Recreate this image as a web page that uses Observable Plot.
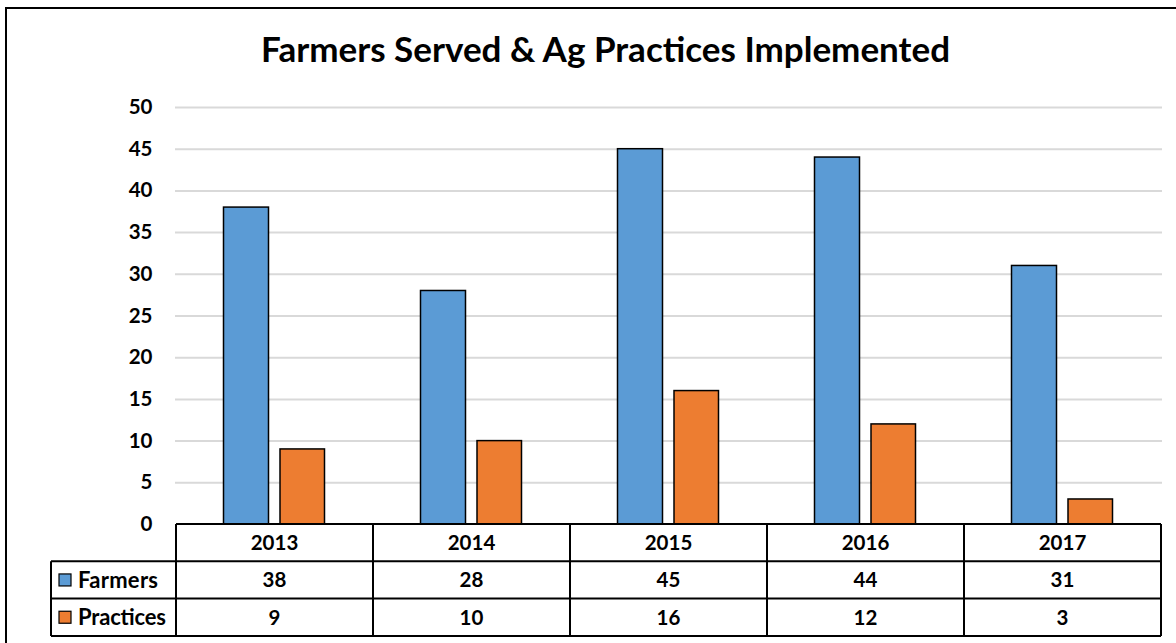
<!DOCTYPE html>
<html><head><meta charset="utf-8">
<script src="https://cdn.jsdelivr.net/npm/d3@7"></script>
<script src="https://cdn.jsdelivr.net/npm/@observablehq/plot@0.6"></script>
<style>
body{margin:0;background:#fff;}
#wrap{position:relative;width:1176px;height:643px;overflow:hidden;}
</style></head><body><div id="wrap"></div>
<script>
const years = ["2013","2014","2015","2016","2017"];
const farmers = [38,28,45,44,31];
const practices = [9,10,16,12,3];
const series = ["Farmers","Practices"];
const colors = ["#5B9BD5","#ED7D31"];
const yTicks = [0,5,10,15,20,25,30,35,40,45,50];
const title = "Farmers Served & Ag Practices Implemented";

const rows = years.flatMap((yr,i)=>[
  {year:yr, series:"Farmers", value:farmers[i]},
  {year:yr, series:"Practices", value:practices[i]}
]);

const FONT = "Lato, 'Open Sans', sans-serif";

const chart = Plot.plot({
  width:1176, height:643,
  marginLeft:175, marginRight:14, marginTop:107, marginBottom:119,
  style:{fontFamily:FONT, fontSize:"20px", fontWeight:"bold", color:"#000", background:"transparent"},
  x:{domain:years, padding:0, axis:null},
  y:{domain:[0,50], axis:null},
  color:{domain:series, range:colors},
  marks:[
    Plot.gridY(yTicks.filter(d=>d>0), {stroke:"#d9d9d9", strokeOpacity:1, strokeWidth:2}),
    Plot.axisY(yTicks, {tickSize:0, tickPadding:23, label:null, fontSize:20.5, fontWeight:"bold", fill:"#000"}),
    Plot.barY(rows.filter(d=>d.series==="Farmers"), {x:"year", y:"value", fill:"series", stroke:"#000", strokeWidth:1.5, insetLeft:47.5, insetRight:104.5}),
    Plot.barY(rows.filter(d=>d.series==="Practices"), {x:"year", y:"value", fill:"series", stroke:"#000", strokeWidth:1.5, insetLeft:104, insetRight:48.5})
  ]
});
document.getElementById("wrap").appendChild(chart);

const svg = d3.select(chart);
const xs = chart.scale("x");
const ys = chart.scale("y");
const bw = xs.bandwidth;
const x0 = xs.apply(years[0]);
const x1 = xs.apply(years[years.length-1]) + bw;
const top0 = ys.apply(0);
const rowH = 37.3;
const leftCol = 51;

// outer chart border
svg.append("rect").attr("x",6).attr("y",8).attr("width",1400).attr("height",1000)
  .attr("fill","none").attr("stroke","#000").attr("stroke-width",2);

// title
svg.append("text").attr("x",605.5).attr("y",62).attr("text-anchor","middle")
  .attr("font-family",FONT).attr("font-weight","bold").attr("font-size",35).attr("fill","#000")
  .text(title);

// data table
const tg = svg.append("g").attr("font-family",FONT).attr("font-weight","bold").attr("font-size",20.5).attr("fill","#000");
const line = (a,b,c,d)=>tg.append("line").attr("x1",a).attr("y1",b).attr("x2",c).attr("y2",d)
  .attr("stroke","#000").attr("stroke-width",2);
// horizontal lines
line(x0, top0, x1, top0);
line(leftCol, top0+rowH, x1, top0+rowH);
line(leftCol, top0+2*rowH, x1, top0+2*rowH);
line(leftCol, top0+3*rowH, x1, top0+3*rowH);
// vertical lines
line(leftCol, top0+rowH, leftCol, top0+3*rowH);
years.forEach(y=>line(xs.apply(y), top0, xs.apply(y), top0+3*rowH));
line(x1, top0, x1, top0+3*rowH);
// header years
years.forEach(y=>tg.append("text").attr("x",xs.apply(y)+bw/2).attr("y",top0+rowH/2).attr("dy","0.36em")
  .attr("text-anchor","middle").text(y));
// series rows
[farmers, practices].forEach((vals,r)=>{
  const cy = top0+rowH*(r+1)+rowH/2;
  tg.append("rect").attr("x",59).attr("y",cy-6).attr("width",12).attr("height",12)
    .attr("fill",colors[r]).attr("stroke","#000").attr("stroke-width",1.2);
  tg.append("text").attr("x",78).attr("y",cy).attr("dy","0.36em").attr("text-anchor","start")
    .attr("font-size",22).attr("textLength", r===0 ? 80 : 88).text(series[r]);
  vals.forEach((v,i)=>tg.append("text").attr("x",xs.apply(years[i])+bw/2).attr("y",cy).attr("dy","0.36em")
    .attr("text-anchor","middle").text(v));
});
</script>
</body></html>
